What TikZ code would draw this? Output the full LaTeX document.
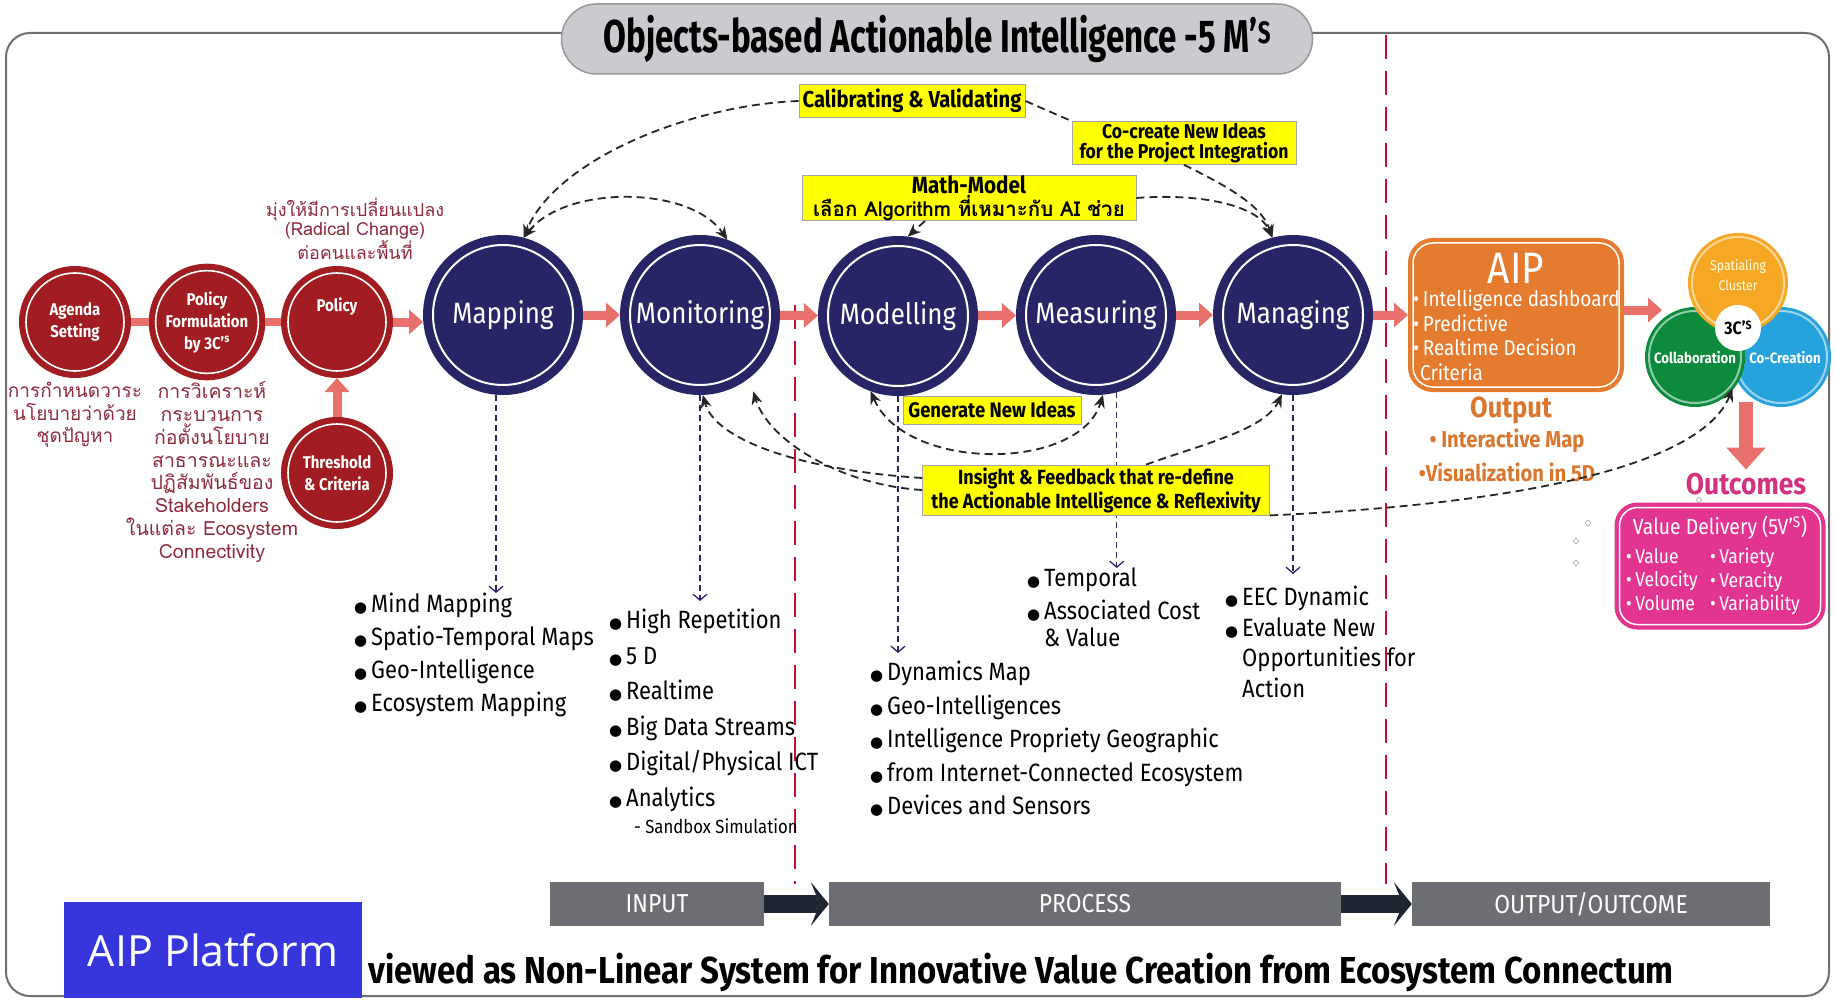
\documentclass[tikz,border=0pt]{standalone}
\usepackage{fontspec}
\setmainfont{Fira Sans}[FakeStretch=0.88]
\newfontfamily\titlefont{Fira Sans}[FakeStretch=0.72]
\newfontfamily\thai[Script=Thai]{Loma}
\newfontfamily\aipfont{Open Sans}
\newfontfamily\dejavu{DejaVu Sans}
\usetikzlibrary{arrows.meta,calc}
\definecolor{frameg}{HTML}{6E6E6E}
\definecolor{titleg}{HTML}{C9CBCF}
\definecolor{redc}{HTML}{A11D21}
\definecolor{navy}{HTML}{272565}
\definecolor{salmon}{HTML}{E9716B}
\definecolor{crimson}{HTML}{C8102E}
\definecolor{thaired}{HTML}{8E2B3C}
\definecolor{aipor}{HTML}{E47B2E}
\definecolor{outor}{HTML}{D9772E}
\definecolor{spat}{HTML}{F6A724}
\definecolor{collg}{HTML}{0C8B3D}
\definecolor{cocb}{HTML}{26A2DC}
\definecolor{mag}{HTML}{E2358F}
\definecolor{outcm}{HTML}{D2327F}
\definecolor{barg}{HTML}{6D6E71}
\definecolor{bardk}{HTML}{1E2633}
\definecolor{aipblue}{HTML}{3636DC}
\definecolor{ylw}{HTML}{FFFF00}
\newcommand\bl{\makebox[17pt][l]{{\dejavu\fontsize{15}{15}\selectfont ●}}}
\tikzset{
  redcirc/.style={circle, inner sep=0pt, minimum size=98pt, fill=redc, draw=white, line width=1.6pt,
    preaction={draw=redc, line width=14pt}, outer sep=7pt, text=white, align=center,
    font=\bfseries\fontsize{17}{22}\selectfont},
  mcirc/.style={circle, inner sep=0pt, minimum size=140pt, fill=navy, draw=white, line width=2pt,
    preaction={draw=navy, line width=20pt}, outer sep=10pt, text=white,
    font=\fontsize{29.5}{34}\selectfont},
  venn/.style={circle, inner sep=0pt, minimum size=92pt, line width=2pt, outer sep=3pt},
  pinkbar/.style={salmon, line width=8pt},
  pinkarr/.style={salmon, line width=9pt, -{Triangle[length=14pt,width=24pt]}},
  ybox/.style={fill=ylw, draw=black!35, line width=0.8pt, inner xsep=3pt, inner ysep=1pt, align=center,
    font=\bfseries\fontsize{23}{23}\selectfont},
  dsh/.style={black!85, line width=1.8pt, dash pattern=on 8pt off 5pt},
  dsharr/.style={dsh, -{Stealth[length=13pt,width=11pt]}},
  dsharrr/.style={dsh, {Stealth[length=13pt,width=11pt]}-{Stealth[length=13pt,width=11pt]}},
  vdash/.style={navy, line width=1.3pt, dash pattern=on 6pt off 4pt, -{Straight Barb[length=6pt,width=14pt]}},
  reddash/.style={crimson, line width=2.5pt, dash pattern=on 24pt off 12pt},
  blist/.style={anchor=north west, align=left, inner sep=0pt},
  thaitxt/.style={align=center, text=thaired, inner sep=0pt},
  barbox/.style={fill=barg, text=white, minimum height=44pt, inner sep=0pt, font=\fontsize{26}{26}\selectfont},
  bararr/.style={bardk, line width=18pt, -{Stealth[length=18pt,width=44pt,inset=9pt]}},
}
\begin{document}
\begin{tikzpicture}[x=1pt,y=-1pt]
\useasboundingbox (0,0) rectangle (1835,1000);
\fill[white] (0,0) rectangle (1835,1000);
\draw[frameg, line width=2pt, rounded corners=24pt] (6,33) rectangle (1829,996);

% red dashed separators
\coordinate (rl1t) at (795,305); \coordinate (rl1b) at (795,884);
\coordinate (rl2t) at (1386,35); \coordinate (rl2b) at (1386,884);
\draw[reddash] (rl1t) -- (rl1b);
\draw[reddash] (rl2t) -- (rl2b);

% title
\node[draw=black!40, fill=titleg, line width=1.5pt, rounded corners=35pt, minimum width=751pt,
  minimum height=70pt, font=\titlefont\bfseries\fontsize{46}{50}\selectfont] (title) at (937,39)
  {Objects-based Actionable Intelligence -5 M’\raisebox{9pt}{\fontsize{31}{31}\selectfont S}};

% red circles
\node[redcirc] (agenda) at (75,322) {Agenda\\Setting};
\node[redcirc] (polform) at (207,322) {Policy\\Formulation\\by 3C’\textsuperscript{s}};
\node[redcirc] (policy) at (337,322) {};
\node[text=white, font=\bfseries\fontsize{17}{22}\selectfont] (policytxt) at (337,306) {Policy};
\node[redcirc] (thresh) at (337,473) {Threshold\\\& Criteria};
\draw[pinkbar] (agenda) -- (polform);
\draw[pinkbar] (polform) -- (policy);
\draw[pinkarr] (thresh) -- (policy);

% Thai texts
\node[thaitxt, font=\thai\fontsize{19}{22.5}\selectfont] (thai1) at (75,415)
  {การกำหนดวาระ\\นโยบายว่าด้วย\\ชุดปัญหา};
\node[thaitxt, font=\thai\fontsize{19.5}{22.9}\selectfont] (thai2) at (212,472)
  {การวิเคราะห์\\กระบวนการ\\ก่อตั้งนโยบาย\\สาธารณะและ\\ปฏิสัมพันธ์ของ\\Stakeholders\\ในแต่ละ Ecosystem\\Connectivity};
\node[thaitxt, font=\thai\fontsize{18}{19}\selectfont] (thai3) at (355,229)
  {มุ่งให้มีการเปลี่ยนแปลง\\(Radical Change)\\ต่อคนและพื้นที่};

% 5 M circles
\node[mcirc] (mapping) at (503,315) {Mapping};
\node[mcirc] (monitoring) at (700,315) {Monitoring};
\node[mcirc] (modelling) at (898,316) {Modelling};
\node[mcirc] (measuring) at (1096,315) {Measuring};
\node[mcirc] (managing) at (1293,315) {Managing};
\draw[pinkarr] (policy.east) -- (mapping.west |- policy.east);
\draw[pinkarr] (mapping) -- (monitoring);
\draw[pinkarr] (monitoring) -- (modelling);
\draw[pinkarr] (modelling) -- (measuring);
\draw[pinkarr] (measuring) -- (managing);

% bullet lists
\node[blist, font=\fontsize{25}{33}\selectfont] (maplist) at (354,593)
  {\bl Mind Mapping\\\bl Spatio-Temporal Maps\\\bl Geo-Intelligence\\\bl Ecosystem Mapping};
\node[blist, font=\fontsize{25}{35.5}\selectfont] (monlist) at (609,609)
  {\bl High Repetition\\\bl 5 D\\\bl Realtime\\\bl Big Data Streams\\\bl Digital/Physical ICT\\\bl Analytics};
\node[anchor=west, inner sep=0pt, font=\fontsize{19}{22}\selectfont] (sandbox) at (634,826) {- Sandbox Simulation};
\node[blist, font=\fontsize{25}{33.5}\selectfont] (modlist) at (870,661)
  {\bl Dynamics Map\\\bl Geo-Intelligences\\\bl Intelligence Propriety Geographic\\\bl from Internet-Connected Ecosystem\\\bl Devices and Sensors};
\node[blist, font=\fontsize{25}{33}\selectfont] (measlist) at (1027,568)
  {\bl Temporal\\\bl Associated Cost\\[-6pt]\hspace*{17pt}\& Value};
\node[blist, font=\fontsize{25}{30.5}\selectfont] (manlist) at (1225,586)
  {\bl EEC Dynamic\\\bl Evaluate New\\\hspace*{17pt}Opportunities for\\\hspace*{17pt}Action};

% vertical dashed drops
\draw[vdash] (mapping.-95) -- (mapping.-95 |- maplist.north);
\draw[vdash, shorten >=8pt] (monitoring.south) -- (monitoring.south |- monlist.north);
\draw[vdash, shorten >=8pt] (modelling.south) -- (modelling.south |- modlist.north);
\draw[vdash] (measuring.-75) -- (measuring.-75 |- measlist.north);
\draw[vdash, shorten >=12pt] (managing.south) -- (managing.south |- manlist.north);

% yellow labels
\node[ybox, minimum width=226pt, minimum height=33pt] (calib) at (912,101) {Calibrating \& Validating};
\node[ybox, minimum width=224pt, minimum height=43pt, font=\bfseries\fontsize{20}{20}\selectfont] (cocreate) at (1184,143)
  {Co-create New Ideas\\for the Project Integration};
\node[ybox, minimum width=334pt, minimum height=43pt, inner ysep=0pt] (mathm) at (969,198)
  {{\fontsize{23.5}{19}\selectfont Math-Model}\\{\thai\bfseries\fontsize{20.5}{20}\selectfont เลือก Algorithm ที่เหมาะกับ AI ช่วย}};
\node[ybox, minimum width=178pt, minimum height=28pt, font=\bfseries\fontsize{21}{21}\selectfont] (genideas) at (992,410) {Generate New Ideas};
\node[ybox, minimum width=347pt, minimum height=50pt, font=\bfseries\fontsize{20.5}{24}\selectfont] (insight) at (1096,490)
  {Insight \& Feedback that re-define\\the Actionable Intelligence \& Reflexivity};

% dashed feedback arrows
\draw[dsharr] (calib.west) .. controls (690,105) and (555,160) .. (mapping.75);
\draw[dsharrr] (mapping.75) .. controls (565,185) and (690,185) .. (monitoring.70);
\draw[dsh] (calib.east) -- (cocreate.north west);
\draw[dsharr] (cocreate.south) .. controls (1225,185) and (1262,205) .. (managing.105);
\draw[dsharr] (mathm.east) .. controls (1200,193) and (1258,205) .. (managing.105);
\draw[dsharr] ([xshift=-44pt]mathm.south) -- (modelling.83);
\draw[dsharrr] (modelling.-110) .. controls (905,472) and (1080,472) .. (measuring.-85);
\draw[dsharr] ([yshift=12pt]insight.west) .. controls (800,470) and (715,440) .. (monitoring.-88);
\draw[dsharr, shorten >=14pt] (insight.west) .. controls (840,485) and (768,440) .. (monitoring.-52);
\draw[dsharr] ([xshift=50pt]insight.north) .. controls (1200,445) and (1265,430) .. (managing.-98);

% AIP box
\node[rounded corners=20pt, fill=aipor, draw=white, line width=1.5pt, preaction={draw=aipor, line width=10pt},
  minimum width=206pt, minimum height=144pt, outer sep=5pt] (aip) at (1516,315) {};
\node[text=white, font=\fontsize{44}{44}\selectfont] (aiptitle) at (1516,268) {AIP};
\node[anchor=north west, align=left, text=white, font=\fontsize{21.5}{24.5}\selectfont, inner sep=0pt] (aipbul) at (1413,290)
  {•\,Intelligence dashboard\\•\,Predictive\\•\,Realtime Decision\\\hspace*{7pt}Criteria};
\draw[pinkarr] (managing) -- (aip);
\node[text=outor, font=\bfseries\fontsize{29}{29}\selectfont] (output) at (1511,410) {Output};
\node[text=outor, font=\bfseries\fontsize{23}{23}\selectfont] (out1) at (1507,441) {• Interactive Map};
\node[text=outor, font=\bfseries\fontsize{23}{23}\selectfont] (out2) at (1507,472) {•Visualization in 5D};

% 3C's Venn
\node[venn, fill=cocb, draw=cocb!45!white, preaction={draw=cocb, line width=8pt}] (cocre) at (1781,357) {};
\node[venn, fill=collg, draw=collg!45!white, preaction={draw=collg, line width=8pt}] (collab) at (1695,357) {};
\node[venn, fill=spat, draw=spat!45!white, preaction={draw=spat, line width=8pt}] (spatc) at (1738,283) {};
\node[circle, fill=white, minimum size=46pt, inner sep=0pt, font=\bfseries\fontsize{18}{18}\selectfont] (threec) at (1738,328) {3C’\raisebox{5pt}{\fontsize{12}{12}\selectfont S}};
\node[text=white!90!yellow, align=center, font=\fontsize{14}{20}\selectfont] (spattxt) at (1738,275) {Spatialing\\Cluster};
\node[text=white, font=\bfseries\fontsize{15}{15}\selectfont] (collabtxt) at (1695,358) {Collaboration};
\node[text=white, font=\bfseries\fontsize{15}{15}\selectfont] (cocretxt) at (1785,358) {Co-Creation};
\coordinate (venntip) at (1662,310);
\draw[pinkarr] (aip.east |- venntip) -- (venntip);
\draw[dsharr] (insight.south east) .. controls (1500,505) and (1700,470) .. (collab.-40);

% outcomes
\node[text=outcm, font=\bfseries\fontsize{30}{30}\selectfont] (outc) at (1746,484) {Outcomes};
\coordinate (vennbot) at (1746,402);
\draw[salmon, line width=14pt, -{Triangle[length=22pt,width=38pt]}] (vennbot) -- (outc.north);
\node[rounded corners=18pt, fill=mag, draw=white, line width=1.5pt, preaction={draw=mag, line width=10pt},
  minimum width=201pt, minimum height=117pt] (vdbox) at (1720,566) {};
\node[text=white, font=\fontsize{22}{22}\selectfont] (vdtitle) at (1720,528) {Value Delivery (5V’\textsuperscript{S})};
\node[anchor=north west, align=left, text=white, font=\fontsize{20}{23.5}\selectfont, inner sep=0pt] (vdcol1) at (1626,548)
  {•\,Value\\•\,Velocity\\•\,Volume};
\node[anchor=north west, align=left, text=white, font=\fontsize{20}{23.5}\selectfont, inner sep=0pt] (vdcol2) at (1710,548)
  {•\,Variety\\•\,Veracity\\•\,Variability};
\foreach \p/\n in {(1588,523)/s1,(1576,541)/s2,(1576,563)/s3,(1699,500)/s4}
  \node[circle, draw=black!40, line width=0.6pt, minimum size=5pt, inner sep=0pt] (\n) at \p {};

% bottom bar
\node[barbox, minimum width=214pt] (inbox) at (657,904) {INPUT};
\node[barbox, minimum width=512pt] (procbox) at (1085,904) {PROCESS};
\node[barbox, minimum width=358pt] (outbox) at (1591,904) {OUTPUT/OUTCOME};
\draw[bararr] (inbox.east) -- (procbox.west);
\draw[bararr] (procbox.east) -- (outbox.west);

% footer
\node[fill=aipblue, text=white, minimum width=298pt, minimum height=96pt, font=\aipfont\fontsize{43}{43}\selectfont] (aipplat) at (213,950) {AIP Platform};
\node[anchor=west, inner sep=0pt, font=\bfseries\fontsize{37.5}{40}\selectfont] (tagline) at (368,972)
  {viewed as Non-Linear System for Innovative Value Creation from Ecosystem Connectum};
\end{tikzpicture}
\end{document}
